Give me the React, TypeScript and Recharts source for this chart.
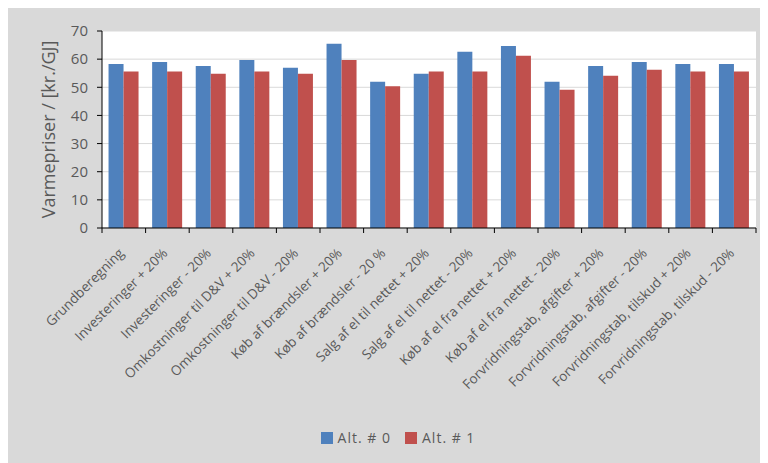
import React from "react";
import {
  BarChart,
  Bar,
  XAxis,
  YAxis,
  CartesianGrid,
  Legend,
} from "recharts";

const categories = [
  "Grundberegning",
  "Investeringer + 20%",
  "Investeringer - 20%",
  "Omkostninger til D&V + 20%",
  "Omkostninger til D&V - 20%",
  "Køb af brændsler + 20%",
  "Køb af brændsler - 20 %",
  "Salg af el til nettet + 20%",
  "Salg af el til nettet - 20%",
  "Køb af el fra nettet + 20%",
  "Køb af el fra nettet - 20%",
  "Forvridningstab, afgifter + 20%",
  "Forvridningstab, afgifter - 20%",
  "Forvridningstab, tilskud + 20%",
  "Forvridningstab, tilskud - 20%",
];

const alt0 = [58.3, 59.0, 57.6, 59.7, 56.9, 65.5, 52.0, 54.8, 62.6, 64.7, 52.0, 57.6, 59.0, 58.3, 58.3];
const alt1 = [55.6, 55.6, 54.8, 55.6, 54.8, 59.7, 50.4, 55.6, 55.6, 61.2, 49.1, 54.1, 56.2, 55.6, 55.6];

const yTicks = [0, 10, 20, 30, 40, 50, 60, 70];

const data = categories.map((name, i) => ({ name, alt0: alt0[i], alt1: alt1[i] }));

const FONT = "'Open Sans', 'Liberation Sans', sans-serif";
const TEXT = "#595959";
const BLUE = "#4f81bd";
const RED = "#c0504d";

function CategoryTick(props: any) {
  const { x, y, payload, index } = props;
  const half = payload && payload.offset ? payload.offset : 21.8;
  const last = index === categories.length - 1;
  const tx = x + 1;
  const ty = y + 18;
  return (
    <g>
      <line x1={x - half} y1={y - 8} x2={x - half} y2={y - 3} stroke="#000" />
      {last && <line x1={x + half} y1={y - 8} x2={x + half} y2={y - 3} stroke="#000" />}
      <text
        x={tx}
        y={ty}
        textAnchor="end"
        transform={`rotate(-45, ${tx}, ${ty})`}
        fontSize={13.5}
        fontFamily={FONT}
        fill={TEXT}
      >
        {payload.value}
      </text>
    </g>
  );
}

function LegendContent() {
  const items = [
    { label: "Alt. # 0", color: BLUE },
    { label: "Alt. # 1", color: RED },
  ];
  return (
    <div style={{ display: "flex", justifyContent: "center", gap: 14, paddingLeft: 20, fontFamily: FONT, fontSize: 14, letterSpacing: 1, color: TEXT }}>
      {items.map((it) => (
        <div key={it.label} style={{ display: "flex", alignItems: "center", gap: 5 }}>
          <span style={{ display: "inline-block", width: 12, height: 12, background: it.color }} />
          <span>{it.label}</span>
        </div>
      ))}
    </div>
  );
}

export default function App() {
  return (
    <div style={{ width: 760, height: 455, background: "#d9d9d9" }}>
      <BarChart
        width={760}
        height={455}
        data={data}
        margin={{ top: 23, right: 12, left: 30, bottom: 8 }}
        barCategoryGap="15%"
        barGap={0}
      >
        <CartesianGrid vertical={false} stroke="#d9d9d9" fill="#ffffff" />
        <XAxis
          dataKey="name"
          interval={0}
          height={208}
          tickLine={false}
          axisLine={{ stroke: "#000" }}
          tick={<CategoryTick />}
        />
        <XAxis xAxisId="top" orientation="top" dataKey="name" tick={false} tickLine={false} height={0} axisLine={{ stroke: "#404040" }} />
        <YAxis
          width={64}
          domain={[0, 70]}
          ticks={yTicks}
          interval={0}
          tickSize={5}
          tickMargin={9}
          axisLine={{ stroke: "#000" }}
          tickLine={{ stroke: "#000" }}
          tick={{ fontSize: 15, fontFamily: FONT, fill: TEXT }}
          label={{
            value: "Varmepriser / [kr./GJ]",
            angle: -90,
            position: "insideLeft",
            offset: 11,
            style: { textAnchor: "middle", fontSize: 18, fontFamily: FONT, fill: TEXT },
          }}
        />
        <YAxis yAxisId="right" orientation="right" width={0} domain={[0, 70]} tick={false} tickLine={false} axisLine={{ stroke: "#404040" }} />
        <Legend content={<LegendContent />} wrapperStyle={{ top: 420, left: 0, width: 760 }} />
        <Bar dataKey="alt0" name="Alt. # 0" fill={BLUE} isAnimationActive={false} />
        <Bar dataKey="alt1" name="Alt. # 1" fill={RED} isAnimationActive={false} />
      </BarChart>
    </div>
  );
}
